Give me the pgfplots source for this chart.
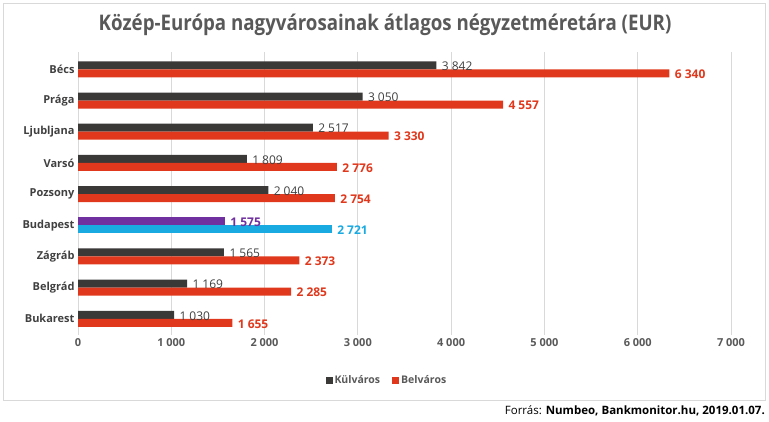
\documentclass[border=0pt]{standalone}
\usepackage{pgfplots}
\pgfplotsset{compat=1.18}
\usepackage{fontspec}
\setmainfont{Open Sans}
\definecolor{dk}{HTML}{3B3838}
\definecolor{rd}{HTML}{E0381C}
\definecolor{pu}{HTML}{7030A0}
\definecolor{cy}{HTML}{1AAAE2}
\definecolor{txt}{HTML}{404040}
\definecolor{tck}{HTML}{595959}
\definecolor{grd}{HTML}{D9D9D9}
\begin{document}
\begin{tikzpicture}[x=1pt,y=1pt]
\path (0pt,0pt) rectangle (769pt,-421pt);
\draw[grd, line width=0.8pt] (3pt,-3pt) rectangle (765pt,-400pt);
\node[font=\bfseries\fontsize{21.5}{24}\selectfont, text=tck] at (385pt,-25pt) {\scalebox{0.87}[1]{Közép-Európa nagyvárosainak átlagos négyzetméretára (EUR)}};
\node[anchor=east, font=\fontsize{11.5}{14}\selectfont, text=black, inner sep=0pt] at (765pt,-411pt) {Forrás: \textbf{Numbeo, Bankmonitor.hu, 2019.01.07.}};
\begin{axis}[
  at={(78pt,-335pt)}, anchor=south west, scale only axis,
  width=653pt, height=283pt,
  xbar, bar width=8pt,
  xmin=0, xmax=7000, ymin=-0.555, ymax=8.52, y dir=reverse,
  axis line style={draw=none}, major tick length=0pt,
  xmajorgrids, grid style={grd, line width=0.8pt},
  xtick={0,1000,...,7000},
  ytick={0,...,8},
  yticklabels={Bécs,Prága,Ljubljana,Varsó,Pozsony,Budapest,Zágráb,Belgrád,Bukarest},
  /pgf/number format/assume math mode=true,
  /pgf/number format/1000 sep={\hspace{0.25em}},
  xticklabel style={font=\bfseries\fontsize{11}{13}\selectfont, text=tck},
  yticklabel style={font=\bfseries\fontsize{11}{13}\selectfont, text=txt},
  point meta=x,
  nodes near coords={\pgfmathprintnumber{\pgfplotspointmeta}},
  legend style={at={(0.473,-0.16)}, anchor=center, draw=none, legend columns=2,
    font=\bfseries\fontsize{10.5}{12}\selectfont, text=tck,
    /tikz/every even column/.append style={column sep=10pt}},
  legend image code/.code={\draw[#1,draw=none] (0pt,-3.5pt) rectangle (7pt,3.5pt);},
]
\addplot[fill=dk, draw=none, bar shift=4pt,
  every node near coord/.append style={font=\fontsize{12}{14}\selectfont, text=txt, xshift=2pt, yshift=-1pt}]
  coordinates {(3842,0) (3050,1) (2517,2) (1809,3) (2040,4) (1565,6) (1169,7) (1030,8)};
\addplot[fill=rd, draw=none, bar shift=-4pt,
  every node near coord/.append style={font=\bfseries\fontsize{12}{14}\selectfont, text=rd, xshift=2pt, yshift=-1pt}]
  coordinates {(6340,0) (4557,1) (3330,2) (2776,3) (2754,4) (2373,6) (2285,7) (1655,8)};
\addplot[fill=pu, draw=none, bar shift=4pt, forget plot,
  every node near coord/.append style={font=\bfseries\fontsize{12}{14}\selectfont, text=pu, xshift=2pt, yshift=-1pt}]
  coordinates {(1575,5)};
\addplot[fill=cy, draw=none, bar shift=-4pt, forget plot,
  every node near coord/.append style={font=\bfseries\fontsize{12}{14}\selectfont, text=cy, xshift=2pt, yshift=-1pt}]
  coordinates {(2721,5)};
\legend{Külváros, Belváros}
\end{axis}
\end{tikzpicture}
\end{document}
